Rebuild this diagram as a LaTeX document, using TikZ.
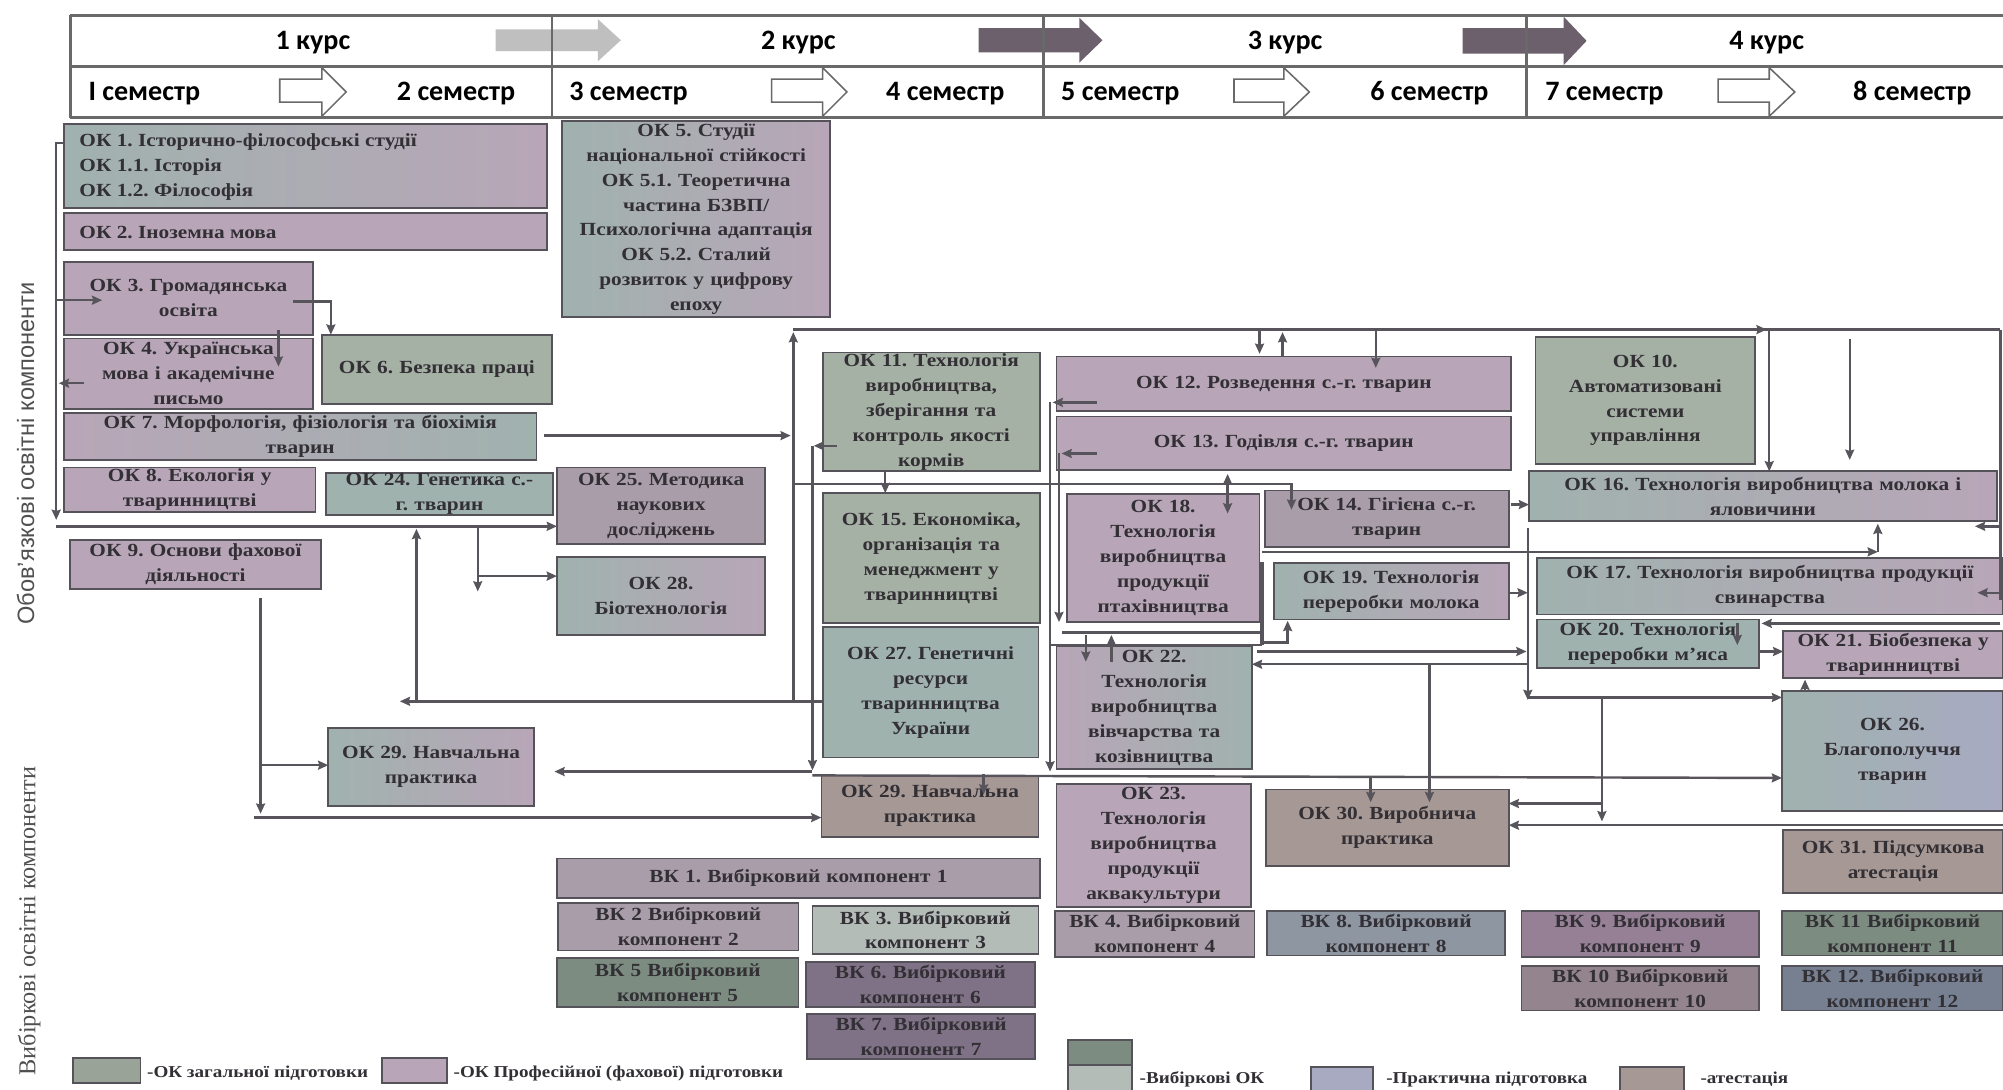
\documentclass[tikz,border=0pt]{standalone}
\usepackage{fontspec}
\setmainfont{Liberation Serif}
\newfontfamily\bxf{Liberation Serif}[FakeStretch=1.15]
\newfontfamily\hdf{Carlito}
\newfontfamily\sdf{Liberation Sans}
\usetikzlibrary{arrows.meta,calc}
\frenchspacing
\definecolor{bordc}{RGB}{85,82,90}
\definecolor{txtc}{RGB}{50,47,53}
\definecolor{linec}{RGB}{88,84,92}
\definecolor{hdc}{RGB}{105,105,105}
\definecolor{cteal}{RGB}{160,178,174}
\definecolor{cmauve}{RGB}{184,166,184}
\definecolor{cmg}{RGB}{170,157,170}
\definecolor{cgreen}{RGB}{166,177,165}
\definecolor{clav}{RGB}{168,170,194}
\definecolor{cbrown}{RGB}{166,152,148}
\definecolor{cdg}{RGB}{124,140,128}
\definecolor{cdp}{RGB}{128,114,134}
\definecolor{cdb}{RGB}{118,128,145}
\definecolor{cltg}{RGB}{180,188,184}
\definecolor{cbg}{RGB}{142,150,162}
\definecolor{cpu}{RGB}{150,128,150}
\definecolor{cpg}{RGB}{148,132,142}
\definecolor{labc}{RGB}{80,80,80}
\tikzset{
  ob/.style={draw=bordc,line width=1.4pt,inner sep=0pt,outer sep=0pt,rectangle},
  obt/.style={text=txtc,font=\bxf\bfseries\fontsize{14.5}{19.5}\selectfont,align=center,inner sep=0pt},
  fA/.style={left color=cteal,right color=cmauve},
  fMT/.style={left color=cmauve,right color=cteal},
  fM/.style={fill=cmauve},
  fMG/.style={fill=cmg},
  fG/.style={fill=cgreen},
  fT/.style={fill=cteal},
  fL/.style={left color=cteal,right color=clav},
  fB/.style={fill=cbrown},
  fDG/.style={fill=cdg},
  fDP/.style={fill=cdp},
  fDB/.style={fill=cdb},
  fLT/.style={fill=cltg},
  fBG/.style={fill=cbg},
  fPU/.style={fill=cpu},
  fPG/.style={fill=cpg},
  cn/.style={draw=linec,line width=1.9pt},
  arr/.style={cn,-{Stealth[length=8pt,width=7pt,inset=1pt]}},
  hd/.style={draw=hdc,line width=2pt},
  yarr/.style={fill=#1,draw=none},
  sarr/.style={draw=hdc,line width=1.2pt,fill=white},
  hdt/.style={font=\hdf\bfseries\fontsize{22}{22}\selectfont,text=black,inner sep=0pt},
  lgt/.style={font=\bxf\bfseries\fontsize{13}{13}\selectfont,text=txtc,anchor=west,inner sep=0pt},
}
\newcommand\bx[7]{%
  \pgfmathsetmacro\bw{#4-#2}%
  \pgfmathsetmacro\bh{#5-#3}%
  \pgfmathsetmacro\btw{#4-#2-6}%
  \pgfmathsetmacro\bcx{(#2+#4)/2}%
  \pgfmathsetmacro\bcy{(#3+#5)/2}%
  \node[ob,#6,minimum width=\bw pt,minimum height=\bh pt] (#1) at (\bcx,\bcy) {};%
  \node[obt,text width=\btw pt] (#1-t) at (#1.center) {#7};%
}
\begin{document}
\begin{tikzpicture}[x=1pt,y=-1pt]
\useasboundingbox[fill=white] (0,0) rectangle (1568,853);

% ---------- header ----------
\fill[yarr=black!25] (388,23) -- (468,23) -- (468,15) -- (486,31.5) -- (468,48) -- (468,40) -- (388,40) -- cycle;
\fill[yarr=black!42!cmauve] (766,22) -- (845,22) -- (845,14) -- (863,31.5) -- (845,49) -- (845,41) -- (766,41) -- cycle;
\fill[yarr=black!42!cmauve] (1145,22) -- (1224,22) -- (1224,13) -- (1242,32) -- (1224,51) -- (1224,42) -- (1145,42) -- cycle;
\draw[hd] (55,12) -- (1568,12);
\draw[hd] (55,52) -- (1568,52);
\draw[hd] (55,92) -- (1568,92);
\draw[hd] (55,12) -- (55,92);
\draw[hd] (432,12) -- (432,92);
\draw[hd] (817,12) -- (817,92);
\draw[hd] (1195,12) -- (1195,92);
\draw[sarr] (219,62) -- (252,62) -- (252,53) -- (271,72) -- (252,91) -- (252,80) -- (219,80) -- cycle;
\draw[sarr] (604,62) -- (644,62) -- (644,53) -- (663,72) -- (644,91) -- (644,80) -- (604,80) -- cycle;
\draw[sarr] (966,62) -- (1005,62) -- (1005,53) -- (1025,72) -- (1005,91) -- (1005,80) -- (966,80) -- cycle;
\draw[sarr] (1345,62) -- (1385,62) -- (1385,53) -- (1405,72) -- (1385,91) -- (1385,80) -- (1345,80) -- cycle;
\node[hdt] (y1) at (245,33) {1 курс};
\node[hdt] (y2) at (625,33) {2 курс};
\node[hdt] (y3) at (1006,33) {3 курс};
\node[hdt] (y4) at (1383,33) {4 курс};
\node[hdt] (s1) at (113,73) {I семестр};
\node[hdt] (s2) at (357,73) {2 семестр};
\node[hdt] (s3) at (492,73) {3 семестр};
\node[hdt] (s4) at (740,73) {4 семестр};
\node[hdt] (s5) at (877,73) {5 семестр};
\node[hdt] (s6) at (1119,73) {6 семестр};
\node[hdt] (s7) at (1256,73) {7 семестр};
\node[hdt] (s8) at (1497,73) {8 семестр};

% ---------- side labels ----------
\node[rotate=90,font=\sdf\fontsize{18.5}{18.5}\selectfont,text=labc,inner sep=0pt] (lab1) at (20,355) {Обов’язкові освітні компоненти};
\node[rotate=90,anchor=east,font=\fontsize{19}{19}\selectfont,text=labc,inner sep=0pt] (lab2) at (23,600) {Вибіркові освітні компоненти};

% ---------- boxes ----------
\bx{ok1}{50}{97}{428}{163}{fA}{}
\node[obt,align=left,anchor=west] (ok1-tx) at (62,131) {ОК 1. Історично-філософські студії\\ОК 1.1. Історія\\ОК 1.2. Філософія};
\bx{ok2}{50}{167}{428}{196}{fM}{}
\node[obt,anchor=west] (ok2-tx) at (62,182) {ОК 2. Іноземна мова};
\bx{ok3}{50}{205}{245}{262}{fM}{ОК 3. Громадянська\\освіта}
\bx{ok4}{50}{265}{245}{320}{fM}{ОК 4. Українська\\мова і академічне\\письмо}
\bx{ok6}{252}{262}{432}{316}{fG}{ОК 6. Безпека праці}
\bx{ok7}{50}{323}{420}{360}{fMT}{ОК 7. Морфологія, фізіологія та біохімія\\тварин}
\bx{ok8}{50}{366}{247}{401}{fM}{ОК 8. Екологія у\\тваринництві}
\bx{ok24}{255}{370}{433}{403}{fT}{ОК 24. Генетика с.-\\г. тварин}
\bx{ok25}{436}{366}{599}{426}{fMG}{ОК 25. Методика\\наукових\\досліджень}
\bx{ok28}{436}{436}{599}{497}{fA}{ОК 28.\\Біотехнологія}
\bx{ok9}{55}{423}{251}{461}{fM}{ОК 9. Основи фахової\\діяльності}
\bx{ok5}{440}{95}{650}{248}{fA}{ОК 5. Студії\\національної стійкості\\ОК 5.1. Теоретична\\частина БЗВП/\\Психологічна адаптація\\ОК 5.2. Сталий\\розвиток у цифрову\\епоху}
\bx{ok29a}{257}{570}{418}{631}{fA}{ОК 29. Навчальна\\практика}
\bx{ok11}{644}{276}{814}{369}{fG}{ОК 11. Технологія\\виробництва,\\зберігання та\\контроль якості\\кормів}
\bx{ok15}{644}{386}{814}{488}{fG}{ОК 15. Економіка,\\організація та\\менеджмент у\\тваринництві}
\bx{ok27}{644}{491}{813}{593}{fT}{ОК 27. Генетичні\\ресурси\\тваринництва\\України}
\bx{ok29b}{643}{607}{813}{655}{fB}{ОК 29. Навчальна\\практика}
\bx{ok12}{827}{279}{1183}{322}{fM}{ОК 12. Розведення с.-г. тварин}
\bx{ok13}{827}{326}{1183}{368}{fM}{ОК 13. Годівля с.-г. тварин}
\bx{ok18}{835}{387}{986}{487}{fM}{ОК 18.\\Технологія\\виробництва\\продукції\\птахівництва}
\bx{ok14}{990}{384}{1181}{428}{fMG}{ОК 14. Гігієна с.-г.\\тварин}
\bx{ok19}{997}{441}{1181}{485}{fA}{ОК 19. Технологія\\переробки молока}
\bx{ok22}{827}{506}{980}{602}{fMT}{ОК 22.\\Технологія\\виробництва\\вівчарства та\\козівництва}
\bx{ok23}{827}{614}{979}{710}{fM}{ОК 23.\\Технологія\\виробництва\\продукції\\аквакультури}
\bx{ok30}{991}{618}{1181}{678}{fB}{ОК 30. Виробнича\\практика}
\bx{ok10}{1202}{264}{1374}{363}{fG}{ОК 10.\\Автоматизовані\\системи\\управління}
\bx{ok16}{1197}{369}{1563}{408}{fA}{ОК 16. Технологія виробництва молока і\\яловичини}
\bx{ok17}{1203}{437}{1568}{481}{fA}{ОК 17. Технологія виробництва продукції\\свинарства}
\bx{ok20}{1203}{485}{1377}{523}{fT}{ОК 20. Технологія\\переробки м’яса}
\bx{ok21}{1396}{494}{1568}{531}{fM}{ОК 21. Біобезпека у\\тваринництві}
\bx{ok26}{1395}{541}{1568}{635}{fL}{ОК 26.\\Благополуччя\\тварин}
\bx{ok31}{1396}{650}{1568}{699}{fB}{ОК 31. Підсумкова\\атестація}
\bx{vk1}{436}{672}{814}{703}{fMG}{ВК 1. Вибірковий компонент 1}
\bx{vk2}{437}{707}{625}{744}{fMG}{ВК 2 Вибірковий\\компонент 2}
\bx{vk3}{636}{709}{813}{747}{fLT}{ВК 3. Вибірковий\\компонент 3}
\bx{vk5}{436}{750}{625}{788}{fDG}{ВК 5 Вибірковий\\компонент 5}
\bx{vk6}{631}{753}{810}{788}{fDP}{ВК 6. Вибірковий\\компонент 6}
\bx{vk7}{632}{794}{810}{829}{fDP}{ВК 7. Вибірковий\\компонент 7}
\bx{vk4}{826}{713}{982}{749}{fMG}{ВК 4. Вибірковий\\компонент 4}
\bx{vk8}{992}{713}{1178}{748}{fBG}{ВК 8. Вибірковий\\компонент 8}
\bx{vk9}{1191}{713}{1377}{749}{fPU}{ВК 9. Вибірковий\\компонент 9}
\bx{vk10}{1191}{756}{1377}{791}{fPG}{ВК 10 Вибірковий\\компонент 10}
\bx{vk11}{1395}{713}{1568}{748}{fDG}{ВК 11 Вибірковий\\компонент 11}
\bx{vk12}{1395}{756}{1568}{791}{fDB}{ВК 12. Вибірковий\\компонент 12}

% ---------- connectors: left part ----------
\coordinate (jL1) at (44,112);
\coordinate (jL2) at (44,412);
\draw[arr] (ok1.west |- jL1) -- (jL1) -- ($(jL2)+(0,-5)$);
\draw[arr] (jL2) -- (ok25.west |- jL2);
\draw[arr] (44,235) -- (80,235);
\draw[arr] (66,300) -- (46,300);
\draw[arr] (229,236) -- (259,236) -- (259,262);
\draw[arr] (218,258) -- (218,287);
\draw[arr] (426,341) -- (619,341);
\coordinate (jV1) at (621,549);
\draw[arr] (jV1) -- (621,260);
\draw[cn] (621,258) -- (1566,258);
\draw[arr] (1300,258) -- (1383,258);
\draw[arr] (ok27.west |- jV1) -- (313,549);
\draw[arr] (326,549) -- (326,414);
\draw[arr] (374,412) -- (374,463);
\draw[arr] (374,451) -- (ok28.west |- 0,451);
\coordinate (j9) at (204,468);
\draw[arr] (j9) -- (204,637);
\draw[arr] (204,599) -- (ok29a.west |- 0,599);
\draw[arr] (199,640) -- (ok29b.west |- 0,640);
\draw[arr] (655,349) -- (637,349);
\draw[arr] (636,349) -- (636,603);
\draw[arr] (636,604) -- (434,604);
\draw[arr] (621,379) -- (1011,379) -- (1011,399);
\draw[arr] (693,369) -- (ok15.north -| 693,0);

% ---------- connectors: top bus ----------
\draw[arr] (986,258) -- (986,277);
\draw[arr] (1004,279) -- (1004,260);
\draw[arr] (1077,258) -- (1077,288);
\draw[arr] (1385,258) -- (ok16.north -| 1385,0);
\draw[arr] (1448,265) -- (1448,360);
\draw[cn] (1566,258) -- (1566,470);
\draw[arr] (1566,412) -- (1546,412);
\draw[arr] (1566,464) -- (1548,464);

% ---------- connectors: middle ----------
\draw[arr] (859,315) -- (824,315);
\draw[arr] (822,315) -- (822,604);
\draw[arr] (859,355) -- (831,355);
\draw[arr] (829,355) -- (829,487);
\draw[cn] (831,495) -- (988,495);
\draw[cn] (822,505) -- (988,505);
\draw[cn,line width=3pt] (988,440) -- (988,505);
\draw[arr] (988,503) -- (1008,503) -- (1008,486);
\draw[cn,{Stealth[length=8pt,width=7pt,inset=1pt]}-{Stealth[length=8pt,width=7pt,inset=1pt]}] (961,371) -- (961,402);
\draw[arr] (1183,395) -- (ok16.west |- 0,395);
\draw[arr] (988,432) -- (1470,432);
\draw[arr] (1470,432) -- (1470,410);
\draw[arr] (1196,413) -- (1196,548);
\draw[arr] (1181,464) -- (1196,464);
\draw[arr] (984,510) -- (1195,510);
\draw[arr] (1196,546) -- (ok26.west |- 0,546);
\draw[arr] (1196,520) -- (ok22.east |- 0,520);
\draw[arr] (1119,520) -- (1119,628);
\draw[arr] (1376,510) -- (ok21.west |- 0,510);
\draw[arr] (1413,541) -- (1413,532);
\draw[arr] (1566,488) -- (1379,488);
\draw[arr] (1360,488) -- (1360,505);
\draw[arr] (850,497) -- (850,518);
\draw[arr] (870,518) -- (870,497);

% ---------- connectors: bottom bus ----------
\draw[arr] (636,607) -- (ok26.west |- 0,609);
\draw[arr] (1073,608) -- (1073,628);
\draw[arr] (770,606) -- (770,622);
\draw[arr] (1254,546) -- (1254,643);
\draw[arr] (1254,629) -- (ok30.east |- 0,629);
\draw[arr] (1568,646) -- (ok30.east |- 0,646);

% ---------- legend ----------
\node[ob,fill=black!8!cgreen,minimum width=53pt,minimum height=20pt] (lg1) at (83.5,838) {};
\node[lgt] (lg1t) at (115,840) {-ОК загальної підготовки};
\node[ob,fill=cmauve,minimum width=51pt,minimum height=20pt] (lg2) at (324.5,838) {};
\node[lgt] (lg2t) at (355,840) {-ОК Професійної (фахової) підготовки};
\node[ob,fill=cdg,minimum width=50pt,minimum height=20pt] (lg3a) at (861,824) {};
\node[ob,fill=cltg,minimum width=50pt,minimum height=22pt] (lg3b) at (861,845) {};
\node[lgt] (lg3t) at (892,845) {-Вибіркові ОК};
\node[ob,fill=clav,minimum width=49pt,minimum height=22pt] (lg4) at (1050.5,846) {};
\node[lgt] (lg4t) at (1085,845) {-Практична підготовка};
\node[ob,fill=cbrown,minimum width=50pt,minimum height=22pt] (lg5) at (1293,846) {};
\node[lgt] (lg5t) at (1331,845) {-атестація};
\end{tikzpicture}
\end{document}
